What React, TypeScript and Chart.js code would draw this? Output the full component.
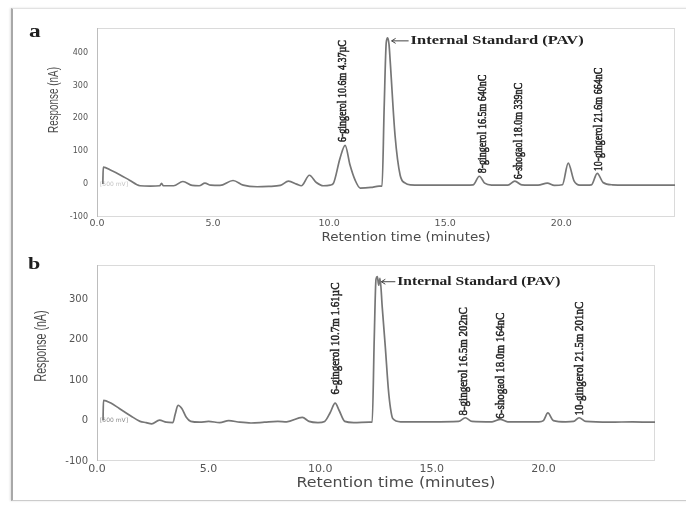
import React, { useEffect, useRef } from "react";
import { Chart, registerables } from "chart.js";

Chart.register(...registerables);

// ---------------- data ----------------
const xTickValues = [0, 5, 10, 15, 20];
const yTicksA = [-100, 0, 100, 200, 300, 400];
const yTicksB = [-100, 0, 100, 200, 300];

const xTitle = "Retention time (minutes)";
const yTitle = "Response (nA)";
const standardLabel = "Internal Standard (PAV)";
const rangeLabel = "[500 mV]";

// Panel a trace
const timeA = [0.25, 0.27, 0.6, 1.0, 1.4, 1.85, 2.3, 2.7, 2.78, 2.86, 3.3, 3.7, 4.1, 4.4, 4.65, 4.9, 5.3, 5.86, 6.3, 6.9, 7.4, 7.9, 8.25, 8.6, 8.8, 9.15, 9.45, 9.75, 10.05, 10.18, 10.47, 10.69, 10.9, 11.12, 11.34, 11.8, 12.15, 12.28, 12.37, 12.46, 12.52, 12.58, 12.63, 12.84, 13.06, 13.28, 13.5, 14.5, 15.5, 16.2, 16.47, 16.7, 17.0, 17.7, 18.0, 18.3, 19.0, 19.4, 19.7, 20.05, 20.3, 20.55, 20.8, 21.3, 21.55, 21.8, 22.2, 23.5, 24.9];
const respA = [0, 52, 42, 28, 12, -5, -6, -5, 2, -5, -5, 8, -4, -5, 3, -3, -4, 11, -3, -8, -7, -4, 9, 0, -5, 27, 5, -5, -3, 2, 79, 118, 58, 12, -12, -10, -6, -6, 230, 430, 445, 425, 375, 148, 27, 3, -2, -3, -3, -2, 24, 3, -3, -3, 9, -2, -3, 3, -4, -2, 64, 10, -3, -2, 33, 5, -2, -3, -3];

const peakNamesA = ["6-gingerol 10.6m 4.37µC", "8-gingerol 16.5m 640nC", "6-shogaol 18.0m 339nC", "10-gingerol 21.6m 664nC"];
const peakTimesA = [10.6, 16.6, 18.15, 21.6];
const peakValsA = [125, 30, 12, 36];
const stdTimeA = 12.52;
const stdValA = 445;

// Panel b trace
const timeB = [0.27, 0.29, 0.6, 1.0, 1.5, 1.93, 2.2, 2.45, 2.8, 3.1, 3.4, 3.5, 3.63, 3.8, 4.0, 4.2, 4.6, 5.0, 5.5, 5.9, 6.4, 6.9, 7.5, 8.1, 8.5, 9.2, 9.5, 9.9, 10.2, 10.45, 10.67, 10.85, 11.1, 11.5, 12.2, 12.33, 12.42, 12.5, 12.56, 12.62, 12.68, 12.78, 12.92, 13.05, 13.15, 13.25, 13.6, 15.0, 16.2, 16.5, 16.8, 17.7, 18.07, 18.4, 19.8, 20.0, 20.2, 20.45, 21.0, 21.35, 21.6, 21.9, 23.0, 24.0, 25.0];
const respB = [0, 50, 44, 30, 12, -2, -5, -8, 1, -4, -5, 15, 38, 30, 8, -2, -4, -2, -5, 0, -4, -6, -4, -2, -3, 8, -2, -5, -2, 20, 43, 25, -2, -5, -4, -4, 200, 350, 356, 335, 352, 280, 180, 80, 30, 5, -3, -3, -2, 7, -2, -3, 3, -3, -3, 0, 19, 0, -3, -2, 7, -2, -4, -3, -4];

const peakNamesB = ["6-gingerol 10.7m 1.61µC", "8-gingerol 16.5m 202nC", "6-shogaol 18.0m 164nC", "10-gingerol 21.5m 201nC"];
const peakTimesB = [10.67, 16.41, 18.07, 21.61];
const peakValsB = [62, 10, 2, 10];
const stdTimeB = 12.56;
const stdValB = 356;

// ---------------- drawing ----------------
type Panel = {
  letter: string;
  time: number[];
  resp: number[];
  xMax: number;
  yMin: number;
  yMax: number;
  yTicks: number[];
  names: string[];
  nTimes: number[];
  nVals: number[];
  stdTime: number;
  stdVal: number;
};

type Style = {
  padTop: number;
  padRight: number;
  xAxisH: number;
  xTickSize: number;
  xTickPad: number;
  yTickSize: number;
  yTickPad: number;
  labelSize: number;
  labelAcross: number;
  stdSize: number;
  stdWidth: number;
  stdDy: number;
  arrowLen: number;
  xTitleSize: number;
  xTitleW: number;
  xTitleDx: number;
  xTitleY: number;
  yTitleX: number;
  yTitleY: number;
  yTitleLen: number;
  yTitleSize: number;
  letterX: number;
  letterY: number;
  letterSize: number;
  mvColor: string;
};

function fitText(
  ctx: CanvasRenderingContext2D,
  text: string,
  x: number,
  y: number,
  rot: number,
  font: string,
  length: number,
  across: number,
  color: string,
  align: CanvasTextAlign
) {
  ctx.save();
  ctx.font = font;
  const w = ctx.measureText(text).width;
  ctx.translate(x, y);
  ctx.rotate(rot);
  ctx.scale(length / w, across);
  ctx.textAlign = align;
  ctx.textBaseline = "middle";
  ctx.fillStyle = color;
  ctx.fillText(text, 0, 0);
  ctx.restore();
}

function makePlugin(p: Panel, s: Style) {
  return {
    id: "panel_" + p.letter,
    beforeDatasetsDraw(chart: any) {
      const ctx = chart.ctx as CanvasRenderingContext2D;
      const ca = chart.chartArea;
      ctx.save();
      ctx.strokeStyle = "#dadada";
      ctx.lineWidth = 1;
      ctx.strokeRect(ca.left + 0.5, ca.top + 0.5, ca.right - ca.left - 1, ca.bottom - ca.top - 1);
      ctx.strokeStyle = "#bdbdbd";
      ctx.beginPath();
      ctx.moveTo(ca.left + 0.5, ca.top);
      ctx.lineTo(ca.left + 0.5, ca.bottom);
      ctx.stroke();
      const y0 = chart.scales.y.getPixelForValue(0);
      ctx.font = '6px "DejaVu Sans"';
      ctx.fillStyle = s.mvColor;
      ctx.textAlign = "left";
      ctx.textBaseline = "middle";
      ctx.fillText(rangeLabel, ca.left + 3, y0);
      ctx.restore();
    },
    afterDraw(chart: any) {
      const ctx = chart.ctx as CanvasRenderingContext2D;
      const ca = chart.chartArea;
      const xs = chart.scales.x;
      const ys = chart.scales.y;

      p.names.forEach((name, i) => {
        const px = xs.getPixelForValue(p.nTimes[i]);
        const py = ys.getPixelForValue(p.nVals[i]);
        ctx.save();
        ctx.translate(px, py - 1);
        ctx.rotate(-Math.PI / 2);
        ctx.scale(1, s.labelAcross);
        ctx.font = `${s.labelSize}px "Liberation Serif"`;
        ctx.textAlign = "left";
        ctx.textBaseline = "middle";
        ctx.fillStyle = "#262626";
        ctx.strokeStyle = "#262626";
        ctx.lineWidth = 0.45;
        ctx.fillText(name, 0, 0);
        ctx.strokeText(name, 0, 0);
        ctx.restore();
      });

      const sx = xs.getPixelForValue(p.stdTime);
      const sy = ys.getPixelForValue(p.stdVal) + s.stdDy;
      ctx.save();
      ctx.strokeStyle = "#444";
      ctx.lineWidth = 1;
      ctx.beginPath();
      ctx.moveTo(sx + 4, sy);
      ctx.lineTo(sx + s.arrowLen, sy);
      ctx.moveTo(sx + 4, sy);
      ctx.lineTo(sx + 8, sy - 2.5);
      ctx.moveTo(sx + 4, sy);
      ctx.lineTo(sx + 8, sy + 2.5);
      ctx.stroke();
      ctx.restore();
      fitText(ctx, standardLabel, sx + s.arrowLen + 2, sy, 0, `bold ${s.stdSize}px "Liberation Serif"`, s.stdWidth, 1, "#222", "left");

      fitText(ctx, xTitle, (ca.left + ca.right) / 2 + s.xTitleDx, s.xTitleY, 0, `${s.xTitleSize}px "DejaVu Sans"`, s.xTitleW, 1, "#4a4a4a", "center");
      fitText(ctx, yTitle, s.yTitleX, s.yTitleY, -Math.PI / 2, `${s.yTitleSize}px "Liberation Sans"`, s.yTitleLen, 1, "#4a4a4a", "center");

      ctx.save();
      ctx.translate(s.letterX, s.letterY);
      ctx.scale(1.3, 1);
      ctx.font = `bold ${s.letterSize}px "Liberation Serif"`;
      ctx.fillStyle = "#1e1e1e";
      ctx.textAlign = "left";
      ctx.textBaseline = "alphabetic";
      ctx.fillText(p.letter, 0, 0);
      ctx.restore();
    },
  };
}

function buildChart(canvas: HTMLCanvasElement, p: Panel, s: Style) {
  const points = p.time.map((t, i) => ({ x: t, y: p.resp[i] }));
  return new Chart(canvas, {
    type: "line",
    data: {
      datasets: [
        {
          data: points,
          borderColor: "#767676",
          borderWidth: 1.7,
          pointRadius: 0,
          fill: false,
          cubicInterpolationMode: "monotone",
        } as any,
      ],
    },
    options: {
      responsive: false,
      animation: false,
      events: [],
      parsing: false as any,
      layout: { padding: { left: 0, right: s.padRight, top: s.padTop, bottom: 0 } },
      plugins: {
        legend: { display: false },
        tooltip: { enabled: false },
        title: { display: false },
      },
      scales: {
        x: {
          type: "linear",
          min: 0,
          max: p.xMax,
          grid: { display: false, drawTicks: false },
          border: { display: false },
          ticks: {
            font: { family: "DejaVu Sans", size: s.xTickSize },
            color: "#555",
            padding: s.xTickPad,
            maxRotation: 0,
            autoSkip: false,
            callback: (v: any) => Number(v).toFixed(1),
          },
          afterBuildTicks: (sc: any) => {
            sc.ticks = xTickValues.map((v) => ({ value: v }));
          },
          afterFit: (sc: any) => {
            sc.height = s.xAxisH;
          },
        },
        y: {
          type: "linear",
          min: p.yMin,
          max: p.yMax,
          grid: { display: false, drawTicks: false },
          border: { display: false },
          ticks: {
            font: { family: "DejaVu Sans", size: s.yTickSize },
            color: "#555",
            padding: s.yTickPad,
            autoSkip: false,
            callback: (v: any) => String(v),
          },
          afterBuildTicks: (sc: any) => {
            sc.ticks = p.yTicks.map((v) => ({ value: v }));
          },
          afterFit: (sc: any) => {
            sc.width = 97;
          },
        },
      },
    } as any,
    plugins: [makePlugin(p, s) as any],
  });
}

const panelA: Panel = {
  letter: "a",
  time: timeA,
  resp: respA,
  xMax: 24.9,
  yMin: -100,
  yMax: 475,
  yTicks: yTicksA,
  names: peakNamesA,
  nTimes: peakTimesA,
  nVals: peakValsA,
  stdTime: stdTimeA,
  stdVal: stdValA,
};

const panelB: Panel = {
  letter: "b",
  time: timeB,
  resp: respB,
  xMax: 25.0,
  yMin: -100,
  yMax: 385,
  yTicks: yTicksB,
  names: peakNamesB,
  nTimes: peakTimesB,
  nVals: peakValsB,
  stdTime: stdTimeB,
  stdVal: stdValB,
};

const styleA: Style = {
  padTop: 28,
  padRight: 11,
  xAxisH: 33,
  xTickSize: 9.5,
  xTickPad: 1,
  yTickSize: 8,
  yTickPad: 9,
  labelSize: 10,
  labelAcross: 1.25,
  stdSize: 13,
  stdWidth: 173,
  stdDy: 3,
  arrowLen: 21,
  xTitleSize: 13,
  xTitleW: 169,
  xTitleDx: 20,
  xTitleY: 238,
  yTitleX: 54,
  yTitleY: 100,
  yTitleLen: 66,
  yTitleSize: 15,
  letterX: 29,
  letterY: 37,
  letterSize: 18,
  mvColor: "#c4c4c4",
};

const styleB: Style = {
  padTop: 8,
  padRight: 31,
  xAxisH: 47,
  xTickSize: 11,
  xTickPad: 2,
  yTickSize: 10,
  yTickPad: 9,
  labelSize: 11,
  labelAcross: 1.2,
  stdSize: 12.5,
  stdWidth: 163,
  stdDy: 5,
  arrowLen: 18,
  xTitleSize: 13.5,
  xTitleW: 199,
  xTitleDx: 20,
  xTitleY: 233,
  yTitleX: 42,
  yTitleY: 96,
  yTitleLen: 71,
  yTitleSize: 16,
  letterX: 28,
  letterY: 19,
  letterSize: 17,
  mvColor: "#8a8a8a",
};

export default function App() {
  const refA = useRef<HTMLCanvasElement | null>(null);
  const refB = useRef<HTMLCanvasElement | null>(null);

  useEffect(() => {
    Chart.defaults.font.family = "DejaVu Sans";
    const a = refA.current ? buildChart(refA.current, panelA, styleA) : null;
    const b = refB.current ? buildChart(refB.current, panelB, styleB) : null;
    return () => {
      if (a) a.destroy();
      if (b) b.destroy();
    };
  }, []);

  return (
    <div style={{ position: "fixed", left: 0, top: 0, width: 686, height: 508, background: "#fff", overflow: "hidden" }}>
      <div
        style={{
          position: "absolute",
          left: 11,
          top: 8,
          width: 680,
          height: 491,
          borderLeft: "2px solid #a8a8a8",
          borderTop: "1px solid #e2e2e2",
          borderBottom: "1px solid #cccccc",
          boxShadow: "-1px 0 2px rgba(0,0,0,0.12)",
        }}
      />
      <canvas
        ref={refA}
        width={686}
        height={250}
        style={{ position: "absolute", left: 0, top: 0, width: 686, height: 250 }}
      />
      <canvas
        ref={refB}
        width={686}
        height={258}
        style={{ position: "absolute", left: 0, top: 250, width: 686, height: 258 }}
      />
    </div>
  );
}
